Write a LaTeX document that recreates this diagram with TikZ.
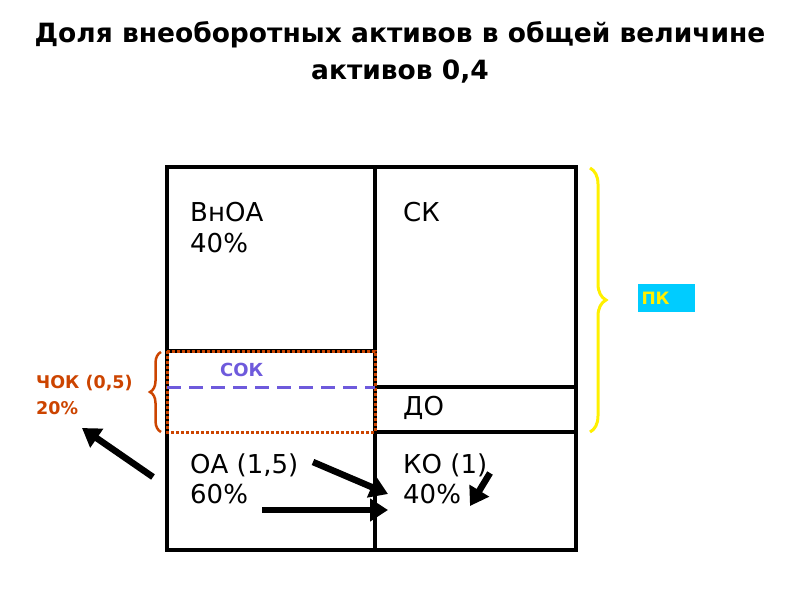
\documentclass[tikz,border=0pt]{standalone}
\usepackage{fontspec}
\setmainfont{DejaVu Sans}
\usetikzlibrary{decorations.pathreplacing,arrows.meta}
\definecolor{rd}{RGB}{204,68,0}
\definecolor{pu}{RGB}{110,90,220}
\definecolor{yl}{RGB}{255,240,0}
\definecolor{cy}{RGB}{0,204,255}
\begin{document}
\begin{tikzpicture}[x=1pt,y=-1pt,
  bx/.style={line width=3.5pt},
  lbl/.style={anchor=west,font=\fontsize{26}{30}\selectfont,inner sep=0pt},
  arr/.style={line width=6.5pt,-{Triangle[length=18pt,width=22pt]}}]
\useasboundingbox (0,0) rectangle (800,600);
\node[font=\bfseries\fontsize{26.5}{37}\selectfont,align=center] (t) at (400,52) {Доля внеоборотных активов в общей величине\\активов 0,4};
\draw[bx] (167,167) rectangle (576,550);
\draw[bx] (375,167) -- (375,550);
\draw[bx] (375,387) -- (576,387);
\draw[bx] (375,432) -- (576,432);
\draw[bx] (167,351) -- (375,351);
\draw[rd,line width=3pt,dotted] (167,351) rectangle (375,432);
\draw[pu,line width=3pt,dash pattern=on 14pt off 8pt] (167,387) -- (375,387);
\node[lbl] (vnoa) at (190,212) {ВнОА};
\node[lbl] (p40) at (190,243) {40\%};
\node[lbl] (sk) at (403,212) {СК};
\node[lbl] (do) at (403,408) {ДО};
\node[lbl] (oa) at (190,465) {ОА (1,5)};
\node[lbl] (p60) at (190,494) {60\%};
\node[lbl] (ko) at (403,465) {КО (1)};
\node[lbl] (p40b) at (403,494) {40\%};
\node[lbl,text=pu,font=\bfseries\fontsize{18}{20}\selectfont] (sok) at (220,370) {СОК};
\node[lbl,text=rd,font=\bfseries\fontsize{17.5}{20}\selectfont] (chok) at (36,383) {ЧОК (0,5)};
\node[lbl,text=rd,font=\bfseries\fontsize{17.5}{20}\selectfont] (p20) at (36,408) {20\%};
\node[fill=cy,text=yl,font=\bfseries\fontsize{17}{19}\selectfont,minimum width=57pt,minimum height=28pt,inner sep=0pt,text width=49pt] (pk) at (666,298) {ПК};
\draw[yl,line width=3pt,decorate,decoration={brace,amplitude=16pt}] (590,168) -- (590,432);
\draw[rd,line width=2.5pt,decorate,decoration={brace,amplitude=11pt}] (161,432) -- (161,352);
\coordinate (a1s) at (153,477); \coordinate (a1e) at (82,428);
\coordinate (a2s) at (313,462); \coordinate (a2e) at (388,494);
\coordinate (a3s) at (262,510); \coordinate (a3e) at (388,510);
\coordinate (a4s) at (490,473); \coordinate (a4e) at (470,506);
\draw[arr] (a1s) -- (a1e);
\draw[arr] (a2s) -- (a2e);
\draw[arr] (a3s) -- (a3e);
\draw[arr] (a4s) -- (a4e);
\end{tikzpicture}
\end{document}
